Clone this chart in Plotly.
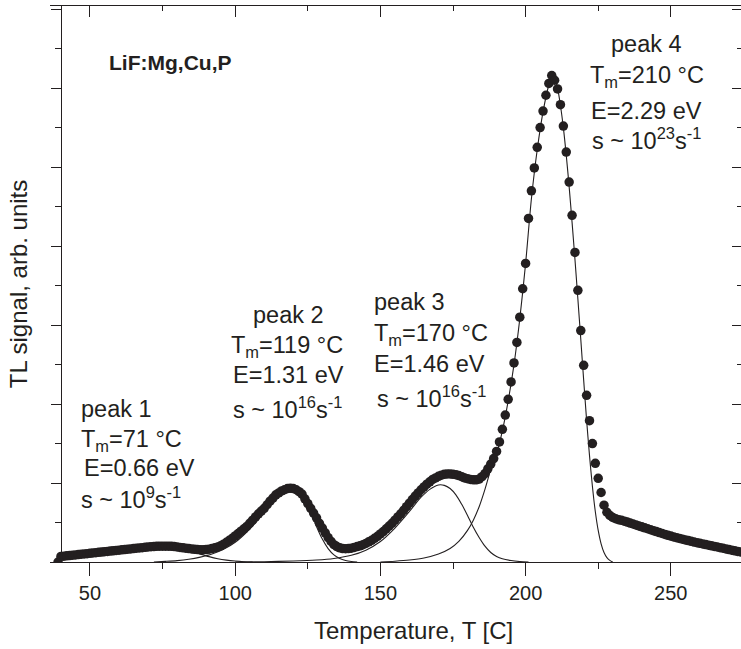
import plotly.graph_objects as go

# ---------------- data ----------------
temperature = [
    39, 40, 41, 42, 43, 44, 45, 46, 47, 48,
    49, 50, 51, 52, 53, 54, 55, 56, 57, 58,
    59, 60, 61, 62, 63, 64, 65, 66, 67, 68,
    69, 70, 71, 72, 73, 74, 75, 76, 77, 78,
    79, 80, 81, 82, 83, 84, 85, 86, 87, 88,
    89, 90, 91, 92, 93, 94, 95, 96, 97, 98,
    99, 100, 101, 102, 103, 104, 105, 106, 107, 108,
    109, 110, 111, 112, 113, 114, 115, 116, 117, 118,
    119, 120, 121, 122, 123, 124, 125, 126, 127, 128,
    129, 130, 131, 132, 133, 134, 135, 136, 137, 138,
    139, 140, 141, 142, 143, 144, 145, 146, 147, 148,
    149, 150, 151, 152, 153, 154, 155, 156, 157, 158,
    159, 160, 161, 162, 163, 164, 165, 166, 167, 168,
    169, 170, 171, 172, 173, 174, 175, 176, 177, 178,
    179, 180, 181, 182, 183, 184, 185, 186, 187, 188,
    189, 190, 191, 192, 193, 194, 195, 196, 197, 198,
    199, 200, 201, 202, 203, 204, 205, 206, 207, 208,
    209, 210, 211, 212, 213, 214, 215, 216, 217, 218,
    219, 220, 221, 222, 223, 224, 225, 226, 227, 228,
    229, 230, 231, 232, 233, 234, 235, 236, 237, 238,
    239, 240, 241, 242, 243, 244, 245, 246, 247, 248,
    249, 250, 251, 252, 253, 254, 255, 256, 257, 258,
    259, 260, 261, 262, 263, 264, 265, 266, 267, 268,
    269, 270, 271, 272, 273, 274,
]
tl_signal = [
    0.0, 0.07, 0.074, 0.078, 0.082, 0.086, 0.09, 0.094, 0.098, 0.102,
    0.106, 0.11, 0.114, 0.118, 0.122, 0.126, 0.13, 0.134, 0.138, 0.142,
    0.146, 0.15, 0.154, 0.158, 0.162, 0.166, 0.17, 0.174, 0.178, 0.182,
    0.186, 0.19, 0.193, 0.196, 0.198, 0.2, 0.201, 0.201, 0.2, 0.198,
    0.195, 0.19, 0.185, 0.18, 0.175, 0.17, 0.165, 0.16, 0.157, 0.155,
    0.155, 0.157, 0.162, 0.17, 0.18, 0.19, 0.205, 0.225, 0.25, 0.275,
    0.3, 0.33, 0.36, 0.39, 0.42, 0.45, 0.49, 0.53, 0.57, 0.61,
    0.645, 0.68, 0.725, 0.77, 0.81, 0.85, 0.875, 0.9, 0.915, 0.93,
    0.935, 0.93, 0.915, 0.89, 0.86, 0.8, 0.74, 0.68, 0.62, 0.56,
    0.49, 0.43, 0.37, 0.31, 0.26, 0.22, 0.195, 0.18, 0.17, 0.168,
    0.17, 0.175, 0.185, 0.195, 0.205, 0.22, 0.235, 0.255, 0.275, 0.3,
    0.325, 0.355, 0.385, 0.42, 0.455, 0.49, 0.53, 0.57, 0.61, 0.655,
    0.7, 0.745, 0.79, 0.835, 0.875, 0.915, 0.95, 0.985, 1.015, 1.045,
    1.065, 1.085, 1.1, 1.11, 1.115, 1.115, 1.11, 1.105, 1.095, 1.08,
    1.065, 1.055, 1.045, 1.04, 1.04, 1.05, 1.08, 1.12, 1.18, 1.24,
    1.31, 1.4, 1.52, 1.68, 1.86, 2.06, 2.28, 2.52, 2.78, 3.1,
    3.46, 3.78, 4.35, 4.7, 4.99, 5.25, 5.5, 5.71, 5.91, 6.06,
    6.16, 6.1, 5.99, 5.79, 5.52, 5.19, 4.81, 4.39, 3.92, 3.44,
    2.93, 2.49, 2.11, 1.79, 1.5, 1.25, 1.06, 0.88, 0.72, 0.63,
    0.59, 0.565, 0.548, 0.536, 0.528, 0.517, 0.505, 0.493, 0.481, 0.469,
    0.457, 0.445, 0.433, 0.421, 0.409, 0.397, 0.385, 0.373, 0.361, 0.349,
    0.338, 0.328, 0.318, 0.308, 0.298, 0.289, 0.28, 0.271, 0.262, 0.253,
    0.245, 0.237, 0.229, 0.221, 0.213, 0.205, 0.197, 0.19, 0.182, 0.174,
    0.166, 0.158, 0.15, 0.142, 0.134, 0.127,
]

# fitted glow-peak components (thin lines)
peak1_T = [40, 45, 50, 55, 60, 65, 70, 75, 78, 80, 82, 85, 88, 91, 94, 97, 100, 103, 106]
peak1_I = [0.035, 0.06, 0.085, 0.11, 0.135, 0.16, 0.18, 0.19, 0.188, 0.18, 0.165, 0.135,
           0.1, 0.068, 0.042, 0.024, 0.012, 0.004, 0.0]

peak2_T = [72, 76, 80, 84, 88, 92, 96, 100, 104, 108, 112, 115, 118, 120, 122, 124, 126,
           128, 130, 132, 134, 136, 138, 140, 142]
peak2_I = [0.0, 0.008, 0.018, 0.035, 0.062, 0.1, 0.16, 0.25, 0.38, 0.54, 0.72, 0.84, 0.91,
           0.92, 0.89, 0.8, 0.64, 0.45, 0.29, 0.17, 0.09, 0.045, 0.02, 0.007, 0.0]

peak3_T = [100, 110, 120, 128, 134, 140, 145, 150, 155, 160, 164, 167, 170, 172, 174, 176,
           178, 180, 182, 184, 186, 188, 190, 192, 195, 198, 201]
peak3_I = [0.0, 0.004, 0.012, 0.025, 0.045, 0.085, 0.15, 0.26, 0.43, 0.64, 0.82, 0.92, 0.975,
           0.97, 0.93, 0.85, 0.73, 0.59, 0.44, 0.31, 0.2, 0.12, 0.07, 0.04, 0.018, 0.006, 0.0]

peak4_T = [150, 155, 160, 165, 170, 174, 177, 180, 182, 184, 186, 188, 190, 192, 194, 196,
           198, 200, 202, 204, 206, 208, 209, 210, 211, 212, 213, 214, 215, 216, 217, 218,
           219, 220, 221, 222, 223, 224, 225, 226, 227, 228, 229, 230]
peak4_I = [0.0, 0.01, 0.025, 0.05, 0.1, 0.17, 0.26, 0.4, 0.53, 0.7, 0.92, 1.17, 1.37, 1.66,
           2.04, 2.5, 3.08, 3.78, 4.6, 5.22, 5.7, 6.04, 6.13, 6.12, 6.0, 5.78, 5.5, 5.15,
           4.75, 4.3, 3.83, 3.33, 2.82, 2.3, 1.8, 1.35, 0.96, 0.64, 0.4, 0.23, 0.12, 0.055,
           0.02, 0.0]

x_ticks = [50, 100, 150, 200, 250]

# labels
x_title = "Temperature, T [C]"
y_title = "TL signal, arb. units"
sample_label = "LiF:Mg,Cu,P"
peak_labels = [
    ["peak 1", "T<sub>m</sub>=71 \u00b0C", "E=0.66 eV", "s ~ 10<sup>9</sup>s<sup>-1</sup>"],
    ["peak 2", "T<sub>m</sub>=119 \u00b0C", "E=1.31 eV", "s ~ 10<sup>16</sup>s<sup>-1</sup>"],
    ["peak 3", "T<sub>m</sub>=170 \u00b0C", "E=1.46 eV", "s ~ 10<sup>16</sup>s<sup>-1</sup>"],
    ["peak 4", "T<sub>m</sub>=210 \u00b0C", "E=2.29 eV", "s ~ 10<sup>23</sup>s<sup>-1</sup>"],
]

# ---------------- styling / layout ----------------
INK = "#231f20"
FONT = "Liberation Sans, Arial, Helvetica, sans-serif"
W, H = 741, 649
ML, MR, MT, MB = 50, 0, 6, 87
PW, PH = W - ML - MR, H - MT - MB
XR = [36.23, 274.17]
YR = [0.0, 7.04]


def paper(px, py):
    return (px - ML) / PW, (H - MB - py) / PH


fig = go.Figure()

for T, I in [(peak1_T, peak1_I), (peak2_T, peak2_I), (peak3_T, peak3_I), (peak4_T, peak4_I)]:
    fig.add_trace(go.Scatter(x=T, y=I, mode="lines",
                             line=dict(color=INK, width=1.1, shape="spline", smoothing=0.8),
                             hoverinfo="skip", showlegend=False))

fig.add_trace(go.Scatter(x=temperature, y=tl_signal, mode="markers",
                         marker=dict(color=INK, size=9.5, line=dict(width=0)),
                         showlegend=False, name="TL"))

# invisible trace to activate the mirrored (top/right) axes
fig.add_trace(go.Scatter(x=temperature, y=tl_signal, xaxis="x2", yaxis="y2", mode="markers",
                         marker=dict(opacity=0), hoverinfo="skip", showlegend=False))

annotations = []
lx, ly = paper(107, 62)
annotations.append(dict(text="<b>" + sample_label + "</b>", x=lx, y=ly, xref="paper", yref="paper",
                        xanchor="left", yanchor="middle", showarrow=False,
                        font=dict(size=21, color=INK, family=FONT)))

tx, ty = paper(413, 631)
annotations.append(dict(text=x_title, x=tx, y=ty, xref="paper", yref="paper",
                        xanchor="center", yanchor="middle", showarrow=False,
                        font=dict(size=24, color=INK, family=FONT)))

placements = [
    [(79, 409, "left"), (79, 440, "left"), (82, 468, "left"), (79, 498, "left")],
    [(288, 315, "center"), (229, 346, "left"), (231, 375, "left"), (231, 408, "left")],
    [(372, 302, "left"), (372, 334, "left"), (372, 364, "left"), (375, 397, "left")],
    [(646, 44, "center"), (647, 77, "center"), (646, 111, "center"), (646, 139, "center")],
]
for labels, places in zip(peak_labels, placements):
    for txt, (px, py, anc) in zip(labels, places):
        ax, ay = paper(px, py)
        annotations.append(dict(text=txt, x=ax, y=ay, xref="paper", yref="paper",
                                xanchor=anc, yanchor="middle", showarrow=False,
                                font=dict(size=23.5, color=INK, family=FONT)))

axis_common = dict(showgrid=False, zeroline=False, linecolor=INK, tickcolor=INK, tickwidth=1.2, linewidth=1.3)

fig.update_layout(
    width=W, height=H,
    margin=dict(l=ML, r=MR, t=MT, b=MB, pad=0),
    paper_bgcolor="white", plot_bgcolor="white",
    showlegend=False,
    font=dict(family=FONT, color=INK),
    annotations=annotations,
    xaxis=dict(range=XR, domain=[0, 1], anchor="y", showline=True,
               ticks="outside", ticklen=13, tickmode="array", tickvals=x_ticks,
               minor=dict(dtick=25, tick0=0, ticks="outside", ticklen=6, tickcolor=INK, tickwidth=1.2),
               tickfont=dict(size=20, color=INK, family=FONT),
               **axis_common),
    yaxis=dict(range=YR, domain=[0, 1], anchor="free", position=(61 - ML) / PW, showline=True,
               ticks="outside", ticklen=10, tick0=0, dtick=1,
               minor=dict(dtick=0.5, tick0=0, ticks="outside", ticklen=6, tickcolor=INK, tickwidth=1.2),
               showticklabels=False,
               title=dict(text=y_title, font=dict(size=24, color=INK, family=FONT), standoff=15),
               **axis_common),
    xaxis2=dict(range=XR, overlaying="x", side="top", anchor="y2", showline=True,
                ticks="inside", ticklen=11, tickmode="array", tickvals=x_ticks,
                minor=dict(dtick=25, tick0=0, ticks="inside", ticklen=5, tickcolor=INK, tickwidth=1.2),
                showticklabels=False, **axis_common),
    yaxis2=dict(range=YR, overlaying="y", side="right", anchor="x2", showline=False,
                ticks="inside", ticklen=9, tick0=0, dtick=1,
                minor=dict(dtick=0.5, tick0=0, ticks="inside", ticklen=4, tickcolor=INK, tickwidth=1.2),
                showticklabels=False, showgrid=False, zeroline=False, tickcolor=INK, tickwidth=1.2),
)

fig.write_html("out.html")
